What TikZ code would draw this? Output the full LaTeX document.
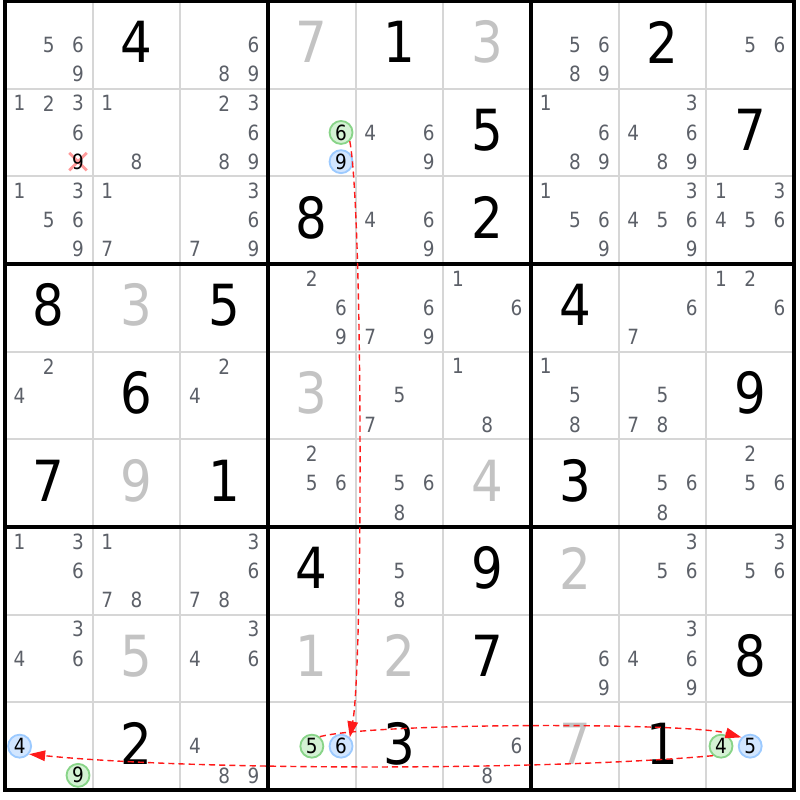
\documentclass[tikz,border=0pt]{standalone}
\usepackage{fontspec}
\setmainfont{DejaVu Sans}[FakeStretch=0.88]
\usetikzlibrary{arrows.meta,calc}
\definecolor{candgray}{HTML}{5C6068}
\definecolor{solvedgray}{HTML}{C3C3C3}
\definecolor{linegray}{HTML}{D6D6D6}
\definecolor{ongreen}{HTML}{D4F2D4}
\definecolor{ongreenline}{HTML}{88D488}
\definecolor{offblue}{HTML}{D2E6FF}
\definecolor{offblueline}{HTML}{9CCAFF}
\definecolor{linkred}{HTML}{FF1A1A}
\definecolor{crosspink}{HTML}{FF9A9A}
\tikzset{
  given/.style={font=\fontsize{18.4}{18}\selectfont, inner sep=0pt},
  solved/.style={given, text=solvedgray},
  cand/.style={font=\fontsize{6.8}{6}\selectfont, text=candgray, inner sep=0pt},
  chainon/.style={cand, text=black, circle, draw=ongreenline, fill=ongreen, line width=0.6pt, minimum size=0.262cm},
  chainoff/.style={chainon, draw=offblueline, fill=offblue},
  link/.style={linkred, dashed, dash pattern=on 2pt off 1.3pt, line width=0.45pt, -{Triangle[length=5.2pt,width=3.4pt]}}
}
\begin{document}
\begin{tikzpicture}
    \useasboundingbox (-0.057,-0.114) rectangle (9.057,9.011);
    \draw[linegray, line width=0.6pt] (0,0) grid (9,9);
    \draw[black, line width=1pt, line cap=rect, step=3] (0,0) grid (9,9);
    \foreach \r/\c/\d in {1/2/4, 1/5/1, 1/8/2, 2/6/5, 2/9/7, 3/4/8, 3/6/2, 4/1/8, 4/3/5, 4/7/4, 5/2/6,
        5/9/9, 6/1/7, 6/3/1, 6/7/3, 7/4/4, 7/6/9, 8/6/7, 8/9/8, 9/2/2, 9/5/3, 9/8/1}
      \node[given] (g\r\c) at (\c-0.5,9.53-\r) {\d};
    \foreach \r/\c/\d in {1/4/7, 1/6/3, 4/2/3, 5/4/3, 6/2/9, 6/6/4, 7/7/2, 8/2/5, 8/4/1, 8/5/2, 9/7/7}
      \node[solved] (g\r\c) at (\c-0.5,9.53-\r) {\d};
    \foreach \r/\c/\ds in {1/1/{5,6,9}, 1/3/{6,8,9}, 1/7/{5,6,8,9}, 1/9/{5,6},
        2/1/{1,2,3,6}, 2/2/{1,8}, 2/3/{2,3,6,8,9}, 2/5/{4,6,9}, 2/7/{1,6,8,9}, 2/8/{3,4,6,8,9},
        3/1/{1,3,5,6,9}, 3/2/{1,7}, 3/3/{3,6,7,9}, 3/5/{4,6,9}, 3/7/{1,5,6,9}, 3/8/{3,4,5,6,9}, 3/9/{1,3,4,5,6},
        4/4/{2,6,9}, 4/5/{6,7,9}, 4/6/{1,6}, 4/8/{6,7}, 4/9/{1,2,6},
        5/1/{2,4}, 5/3/{2,4}, 5/5/{5,7}, 5/6/{1,8}, 5/7/{1,5,8}, 5/8/{5,7,8},
        6/4/{2,5,6}, 6/5/{5,6,8}, 6/8/{5,6,8}, 6/9/{2,5,6},
        7/1/{1,3,6}, 7/2/{1,7,8}, 7/3/{3,6,7,8}, 7/5/{5,8}, 7/8/{3,5,6}, 7/9/{3,5,6},
        8/1/{3,4,6}, 8/3/{3,4,6}, 8/7/{6,9}, 8/8/{3,4,6,9},
        9/3/{4,8,9}, 9/6/{6,8}}
      \foreach \d in \ds {
        \pgfmathsetmacro\cx{\c-1+(2*mod(\d-1,3)+1)/6}
        \pgfmathsetmacro\cy{10-\r-(2*int((\d-1)/3)+1)/6}
        \node[cand] (c\r\c\d) at (\cx,\cy) {\d};
      }
    \draw[crosspink, line width=0.9pt] (0.733,7.067) -- (0.933,7.267) (0.733,7.267) -- (0.933,7.067);
    \node[cand, text=black] (c219) at (0.833,7.167) {9};
    \node[chainon] (n246) at (3.833,7.5) {6};
    \node[chainoff] (f249) at (3.833,7.167) {9};
    \node[chainoff] (f914) at (0.167,0.5) {4};
    \node[chainon] (n919) at (0.833,0.167) {9};
    \node[chainon] (n945) at (3.5,0.5) {5};
    \node[chainoff] (f946) at (3.833,0.5) {6};
    \node[chainon] (n994) at (8.167,0.5) {4};
    \node[chainoff] (f995) at (8.5,0.5) {5};
    \draw[link] (n246.-45) .. controls ($(n246)+(0.25,-0.9)$) and ($(f946)+(0.25,0.9)$) .. (f946.45);
    \draw[link] (n945.50) .. controls ($(n945)+(0.7,0.27)$) and ($(f995)+(-0.7,0.27)$) .. (f995.135);
    \draw[link] (n994.230) .. controls ($(n994)+(-2,-0.28)$) and ($(f914)+(2,-0.28)$) .. (f914.-40);
\end{tikzpicture}
\end{document}
